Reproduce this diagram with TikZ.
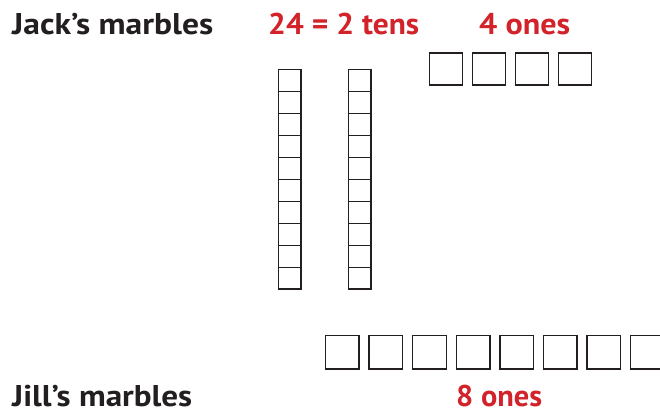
\documentclass[tikz,border=0pt]{standalone}
\usepackage{fontspec}
\usepackage{graphicx}
\setmainfont{PT Sans}
\definecolor{redtxt}{HTML}{D2232A}
\definecolor{ink}{HTML}{231F20}
\newcommand{\fitto}[2]{\resizebox{#1}{\height}{#2}}
\tikzset{
  cell/.style={draw=ink, line width=1.4pt},
  rod/.style={draw=ink, line width=1.1pt},
  lbl/.style={font=\bfseries\fontsize{30}{32}\selectfont, anchor=base west, inner sep=0pt},
}
\begin{document}
\begin{tikzpicture}[x=1pt,y=-1pt]
\useasboundingbox (0,0) rectangle (660,410);
\clip (0,0) rectangle (660,410);
% labels
\node[lbl, text=ink] (jack) at (12,34) {\fitto{201pt}{Jack’s marbles}};
\node[lbl, text=redtxt] (eq) at (268,34) {\fitto{151pt}{24 = 2 tens}};
\node[lbl, text=redtxt] (four) at (479,34) {\fitto{91pt}{4 ones}};
\node[lbl, text=ink] (jill) at (12,406) {\fitto{180pt}{Jill’s marbles}};
\node[lbl, text=redtxt] (eight) at (456,406) {\fitto{86pt}{8 ones}};
% tens rods
\foreach \x in {278.5,348.5}{
  \foreach \i in {0,...,9}{
    \draw[rod] (\x,69.5+\i*21.95) rectangle ++(22.5,21.95);
  }
}
% 4 ones
\foreach \i in {0,...,3}{
  \draw[cell] (429.5+\i*42.9,53) rectangle ++(33,32);
}
% 8 ones
\foreach \i in {0,...,7}{
  \draw[cell] (325.5+\i*43.6,335.5) rectangle ++(33.5,33.5);
}
\end{tikzpicture}
\end{document}
